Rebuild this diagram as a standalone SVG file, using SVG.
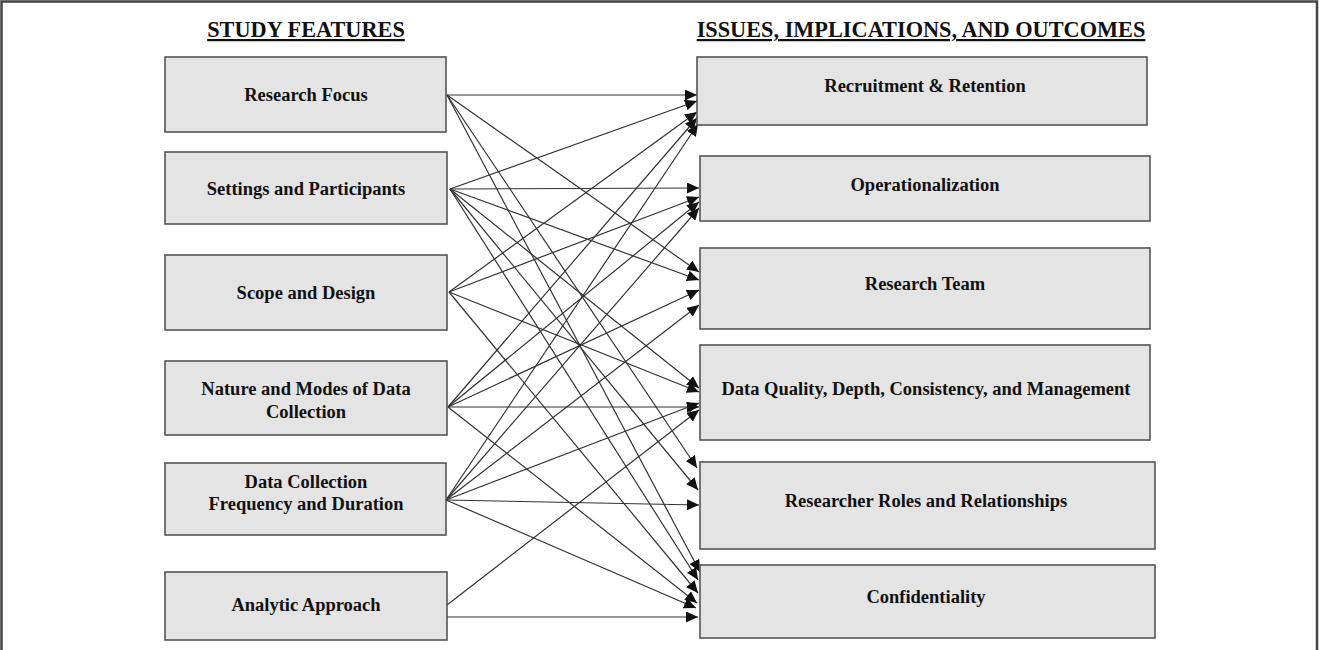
<svg xmlns="http://www.w3.org/2000/svg" width="1319" height="650" viewBox="0 0 1319 650">
  <style>
    .box { fill: #e4e4e4; stroke: #555555; stroke-width: 1.6; }
    .lbl { font-family: "Liberation Serif", "Times New Roman", serif; font-weight: bold; font-size: 18.5px; fill: #111111; text-anchor: middle; }
    .hdr { font-family: "Liberation Serif", "Times New Roman", serif; font-weight: bold; font-size: 22.3px; fill: #111111; text-anchor: middle; text-decoration: underline; }
    .links line { stroke: #333333; stroke-width: 1.2; marker-end: url(#arrow); }
  </style>
  <defs>
    <marker id="arrow" markerUnits="userSpaceOnUse" markerWidth="13" markerHeight="11" refX="12" refY="5.5" orient="auto">
      <path d="M0,0 L12,5.5 L0,11 Z" fill="#111111"/>
    </marker>
  </defs>

  <rect x="0" y="0" width="1319" height="650" fill="#ffffff"/>
  <!-- outer frame -->
  <path d="M1.5,660 V1.5 H1317 V660" fill="none" stroke="#444444" stroke-width="2.5"/>

  <!-- column headings -->
  <text class="hdr" x="306" y="37">STUDY FEATURES</text>
  <text class="hdr" x="921" y="37">ISSUES, IMPLICATIONS, AND OUTCOMES</text>

  <!-- connectors -->
  <g id="connectors" class="links">
    <!-- Research Focus -->
    <line x1="447" y1="95" x2="697" y2="95"/>
    <line x1="447" y1="95" x2="699" y2="272"/>
    <line x1="447" y1="95" x2="697" y2="468"/>
    <line x1="447" y1="95" x2="700" y2="572"/>
    <!-- Settings and Participants -->
    <line x1="450" y1="189" x2="697" y2="101"/>
    <line x1="450" y1="189" x2="699" y2="188"/>
    <line x1="450" y1="189" x2="699" y2="280"/>
    <line x1="450" y1="189" x2="699" y2="388"/>
    <line x1="450" y1="189" x2="698" y2="490"/>
    <line x1="450" y1="189" x2="698" y2="580"/>
    <!-- Scope and Design -->
    <line x1="449" y1="292" x2="697" y2="112"/>
    <line x1="449" y1="292" x2="699" y2="197"/>
    <line x1="449" y1="292" x2="699" y2="392"/>
    <line x1="449" y1="292" x2="698" y2="593"/>
    <!-- Nature and Modes of Data Collection -->
    <line x1="448" y1="407" x2="697" y2="118"/>
    <line x1="448" y1="407" x2="699" y2="202"/>
    <line x1="448" y1="407" x2="699" y2="290"/>
    <line x1="448" y1="407" x2="699" y2="407"/>
    <line x1="448" y1="407" x2="697" y2="603"/>
    <!-- Data Collection Frequency and Duration -->
    <line x1="446" y1="500" x2="698" y2="124"/>
    <line x1="446" y1="500" x2="699" y2="208"/>
    <line x1="446" y1="500" x2="699" y2="305"/>
    <line x1="446" y1="500" x2="699" y2="403"/>
    <line x1="446" y1="500" x2="699" y2="505"/>
    <line x1="446" y1="500" x2="696" y2="608"/>
    <!-- Analytic Approach -->
    <line x1="447" y1="605" x2="699" y2="410"/>
    <line x1="447" y1="617" x2="698" y2="617"/>
  </g>

  <!-- study features -->
  <g id="research-focus">
    <rect class="box" x="165" y="57" width="281" height="75"/>
    <text class="lbl" x="306" y="101">Research Focus</text>
  </g>
  <g id="settings-participants">
    <rect class="box" x="165" y="152" width="282" height="72"/>
    <text class="lbl" x="306" y="195">Settings and Participants</text>
  </g>
  <g id="scope-design">
    <rect class="box" x="165" y="255" width="282" height="75"/>
    <text class="lbl" x="306" y="299">Scope and Design</text>
  </g>
  <g id="nature-modes">
    <rect class="box" x="165" y="361" width="282" height="74"/>
    <text class="lbl" x="306" y="395">Nature and Modes of Data</text>
    <text class="lbl" x="306" y="418">Collection</text>
  </g>
  <g id="frequency-duration">
    <rect class="box" x="165" y="463" width="281" height="72"/>
    <text class="lbl" x="306" y="488">Data Collection</text>
    <text class="lbl" x="306" y="510">Frequency and Duration</text>
  </g>
  <g id="analytic-approach">
    <rect class="box" x="165" y="572" width="282" height="68"/>
    <text class="lbl" x="306" y="611">Analytic Approach</text>
  </g>

  <!-- issues, implications and outcomes -->
  <g id="recruitment-retention">
    <rect class="box" x="697" y="57" width="450" height="68"/>
    <text class="lbl" x="925" y="92">Recruitment &amp; Retention</text>
  </g>
  <g id="operationalization">
    <rect class="box" x="700" y="156" width="450" height="65"/>
    <text class="lbl" x="925" y="191">Operationalization</text>
  </g>
  <g id="research-team">
    <rect class="box" x="700" y="248" width="450" height="81"/>
    <text class="lbl" x="925" y="290">Research Team</text>
  </g>
  <g id="data-quality">
    <rect class="box" x="700" y="345" width="450" height="95"/>
    <text class="lbl" x="926" y="395">Data Quality, Depth, Consistency, and Management</text>
  </g>
  <g id="researcher-roles">
    <rect class="box" x="700" y="462" width="455" height="87"/>
    <text class="lbl" x="926" y="507">Researcher Roles and Relationships</text>
  </g>
  <g id="confidentiality">
    <rect class="box" x="700" y="565" width="455" height="73"/>
    <text class="lbl" x="926" y="603">Confidentiality</text>
  </g>
</svg>
